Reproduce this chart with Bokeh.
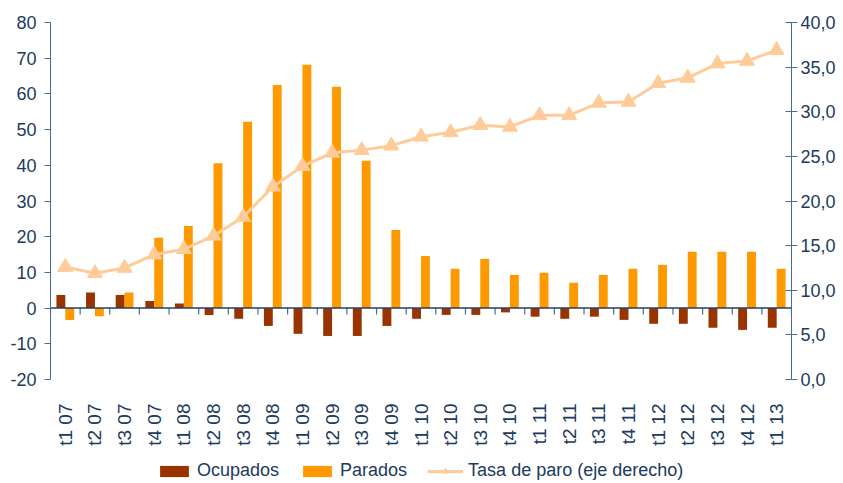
import math
from bokeh.plotting import figure
from bokeh.models import (FactorRange, Range1d, LinearAxis, Span, ColumnDataSource,
                          Legend, LegendItem, SingleIntervalTicker, CustomJSTickFormatter)
from bokeh.core.properties import value
from bokeh.transform import dodge
from bokeh.embed import file_html
from bokeh.resources import INLINE

cats = ["t1 07", "t2 07", "t3 07", "t4 07",
        "t1 08", "t2 08", "t3 08", "t4 08",
        "t1 09", "t2 09", "t3 09", "t4 09",
        "t1 10", "t2 10", "t3 10", "t4 10",
        "t1 11", "t2 11", "t3 11", "t4 11",
        "t1 12", "t2 12", "t3 12", "t4 12",
        "t1 13"]
ocupados = [3.7, 4.4, 3.7, 2.0, 1.3, -1.9, -3.0, -5.0, -7.2, -7.8, -7.8, -5.0,
            -3.0, -1.9, -1.9, -1.2, -2.4, -3.0, -2.4, -3.3, -4.4, -4.4, -5.5, -6.1, -5.5]
parados = [-3.3, -2.3, 4.4, 19.7, 23.0, 40.6, 52.2, 62.5, 68.2, 62.0, 41.3, 21.9,
           14.6, 11.0, 13.8, 9.3, 9.9, 7.1, 9.3, 11.0, 12.1, 15.8, 15.8, 15.8, 11.0]
tasa = [12.6, 11.9, 12.5, 14.0, 14.6, 16.1, 18.2, 21.6, 23.9, 25.4, 25.7, 26.2,
        27.2, 27.7, 28.5, 28.3, 29.6, 29.6, 31.0, 31.1, 33.2, 33.8, 35.4, 35.7, 36.9]

FONT = "Liberation Sans"
TXT = "#1B3A5E"
AXC = "#4A6D8F"
FS = "18px"
C_OCU = "#993300"
C_PAR = "#FF9900"
C_TASA = "#FFCC99"

# axis scales: left -20..80, right 0..40 (frame extended below to hold labels/legend)
L_MIN, L_MAX = -20, 80
R_MIN, R_MAX = 0, 40
FRAME_TOP = 22
AXIS_PX = 357
HEIGHT = 483
frame_h = HEIGHT - FRAME_TOP
l_low = L_MAX - frame_h * (L_MAX - L_MIN) / AXIS_PX
r_low = R_MAX - frame_h * (R_MAX - R_MIN) / AXIS_PX
label_y = L_MAX - (403 - FRAME_TOP) * (L_MAX - L_MIN) / AXIS_PX

src = ColumnDataSource(dict(x=cats, ocupados=ocupados, parados=parados, tasa=tasa))
last_src = ColumnDataSource(dict(x=cats[-1:]))

p = figure(x_range=FactorRange(factors=cats), y_range=Range1d(l_low, L_MAX),
           width=843, height=HEIGHT, output_backend="svg", toolbar_location=None,
           min_border_left=50, min_border_right=52, min_border_top=FRAME_TOP,
           min_border_bottom=0)
p.extra_y_ranges = {"right": Range1d(r_low, R_MAX)}
p.grid.visible = False
p.outline_line_color = None
p.xaxis.visible = False

# left axis
ly = p.yaxis[0]
ly.bounds = (L_MIN, L_MAX)
ly.ticker = SingleIntervalTicker(interval=10, num_minor_ticks=0)
ly.formatter = CustomJSTickFormatter(code="return String(Math.round(tick));")
ly.axis_line_color = AXC
ly.major_tick_line_color = AXC
ly.major_tick_in = 0
ly.major_tick_out = 6
ly.minor_tick_line_color = None
ly.major_label_text_font = FONT
ly.major_label_text_font_size = FS
ly.major_label_text_color = TXT
ly.major_label_standoff = 8

# right axis
ry = LinearAxis(y_range_name="right", bounds=(R_MIN, R_MAX),
                ticker=SingleIntervalTicker(interval=5, num_minor_ticks=0),
                formatter=CustomJSTickFormatter(code="return tick.toFixed(1).replace('.', ',');"))
ry.axis_line_color = AXC
ry.major_tick_line_color = AXC
ry.major_tick_in = 6
ry.major_tick_out = 6
ry.minor_tick_line_color = None
ry.major_label_text_font = FONT
ry.major_label_text_font_size = FS
ry.major_label_text_color = TXT
ry.major_label_standoff = 3
p.add_layout(ry, "right")

# category labels, rotated
p.text(x="x", y=label_y, text="x", source=src, angle=math.pi / 2,
       text_align="right", text_baseline="middle",
       text_font=value(FONT), text_font_size="19px", text_color=TXT)

# zero line with boundary ticks
p.add_layout(Span(location=0, dimension="width", line_color="#1F3F66", line_width=1.5))
p.segment(x0=dodge("x", -0.5, range=p.x_range), y0=0,
          x1=dodge("x", -0.5, range=p.x_range), y1=-1.8,
          source=src, line_color=AXC, line_width=1.2)
p.segment(x0=dodge("x", 0.5, range=p.x_range), y0=0,
          x1=dodge("x", 0.5, range=p.x_range), y1=-1.8,
          source=last_src, line_color=AXC, line_width=1.2)

b1 = p.vbar(x=dodge("x", -0.15, range=p.x_range), top="ocupados", width=0.3,
            source=src, fill_color=C_OCU, line_color=None)
b2 = p.vbar(x=dodge("x", 0.15, range=p.x_range), top="parados", width=0.3,
            source=src, fill_color=C_PAR, line_color=None)
l1 = p.line(x="x", y="tasa", source=src, y_range_name="right",
            line_color=C_TASA, line_width=3)
s1 = p.scatter(x="x", y="tasa", source=src, y_range_name="right", marker="triangle",
               size=15, fill_color=C_TASA, line_color=C_TASA)

legend = Legend(items=[LegendItem(label="Ocupados", renderers=[b1]),
                       LegendItem(label="Parados", renderers=[b2]),
                       LegendItem(label="Tasa de paro (eje derecho)", renderers=[l1, s1])],
                orientation="horizontal", location=(106, 2),
                border_line_color=None, background_fill_alpha=0,
                label_text_font=FONT, label_text_font_size="18px", label_text_color=TXT,
                glyph_width=36, glyph_height=14, spacing=20, padding=2, margin=0,
                label_standoff=5)
p.add_layout(legend, "center")

open("out.html", "w").write(file_html(p, INLINE))
